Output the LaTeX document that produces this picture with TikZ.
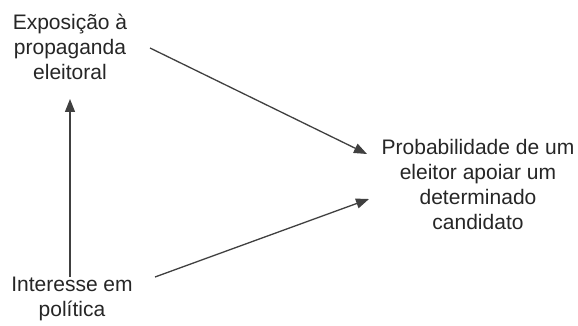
\documentclass[tikz,border=0pt]{standalone}
\usepackage{fontspec}
\setmainfont{Liberation Sans}
\usetikzlibrary{arrows.meta}
\begin{document}
\begin{tikzpicture}[x=1pt,y=-1pt,
  lbl/.style={align=center,text=black!85,font=\fontsize{21}{25}\selectfont,inner sep=0pt},
  arr/.style={draw=black!75,line width=1.3pt,-{Triangle[length=13pt,width=10pt]}}]
\useasboundingbox[fill=white] (0,0) rectangle (578,326);
\node[lbl] (expo) at (70,47) {Exposição à\\propaganda\\eleitoral};
\node[lbl] (inter) at (72,299) {Interesse em\\política};
\node[lbl] (prob) at (478,184) {Probabilidade de um\\eleitor apoiar um\\determinado\\candidato};
\coordinate (a1) at (150,48);
\coordinate (a2) at (367,154);
\coordinate (b1) at (155,277);
\coordinate (b2) at (369,199);
\coordinate (v1) at (70,277);
\coordinate (v2) at (70,99);
\draw[arr] (a1) -- (a2);
\draw[arr] (b1) -- (b2);
\draw[arr] (v1) -- (v2);
\end{tikzpicture}
\end{document}
